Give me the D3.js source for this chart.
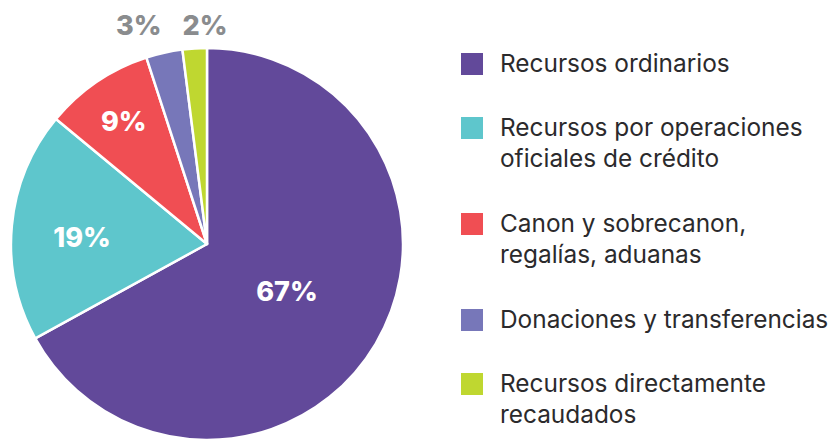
<!DOCTYPE html>
<html><head><meta charset="utf-8">
<script src="https://cdn.jsdelivr.net/npm/d3@7"></script>
<style>html,body{margin:0;padding:0;background:#fff;}svg{display:block;}</style>
</head><body>
<svg id="c" width="834" height="441"></svg>
<script>
const categories = ["Recursos ordinarios", "Recursos por operaciones oficiales de crédito", "Canon y sobrecanon, regalías, aduanas", "Donaciones y transferencias", "Recursos directamente recaudados"];
const legendLines = [["Recursos ordinarios"], ["Recursos por operaciones", "oficiales de crédito"], ["Canon y sobrecanon,", "regalías, aduanas"], ["Donaciones y transferencias"], ["Recursos directamente", "recaudados"]];
const values = [67, 19, 9, 3, 2];
const labels = ["67%", "19%", "9%", "3%", "2%"];
const colors = ["#62499a", "#5ec6cc", "#f04e53", "#7777b9", "#bfd730"];

const svg = d3.select("#c");
const cx = 207, cy = 244, r = 196;
const g = svg.append("g").attr("transform", `translate(${cx},${cy})`);
const pie = d3.pie().sort(null).value(d => d)(values);
const arc = d3.arc().innerRadius(0).outerRadius(r);
g.selectAll("path").data(pie).join("path")
  .attr("d", arc).attr("fill", (d, i) => colors[i])
  .attr("stroke", "#fff").attr("stroke-width", 2.5).attr("stroke-linejoin", "round");

const labelArc = [0.474, 0.64, 0.755, 1.13, 1.13];
const outsideShift = [0, 0, 0, -20, 12];
const labelDy = [0, 5, 0, 0, 0];
const font = "Inter, 'DejaVu Sans', sans-serif";
g.selectAll("text.lbl").data(pie).join("text").attr("class", "lbl")
  .each(function(d, i) {
    const a = (d.startAngle + d.endAngle) / 2;
    const rr = r * labelArc[i];
    let x = Math.sin(a) * rr + outsideShift[i], y = -Math.cos(a) * rr + labelDy[i];
    if (i >= 3) { y = 25 - cy; }
    d3.select(this).attr("x", x).attr("y", y);
  })
  .attr("text-anchor", "middle").attr("dominant-baseline", "central")
  .attr("font-family", font).attr("font-weight", 800).attr("font-size", 27)
  .attr("fill", (d, i) => i >= 3 ? "#8a8c8e" : "#fff")
  .text((d, i) => labels[i]);

const rowY = [53, 117, 213, 309, 373];
const lg = svg.append("g");
legendLines.forEach((lines, i) => {
  lg.append("rect").attr("x", 461).attr("y", rowY[i]).attr("width", 22).attr("height", 22).attr("fill", colors[i]);
  const t = lg.append("text").attr("font-family", font).attr("font-size", 24.4).attr("fill", "#2b2a2c");
  lines.forEach((ln, j) => {
    t.append("tspan").attr("x", 500).attr("y", rowY[i] + 19 + j * 31).text(ln);
  });
});
</script>
</body></html>
